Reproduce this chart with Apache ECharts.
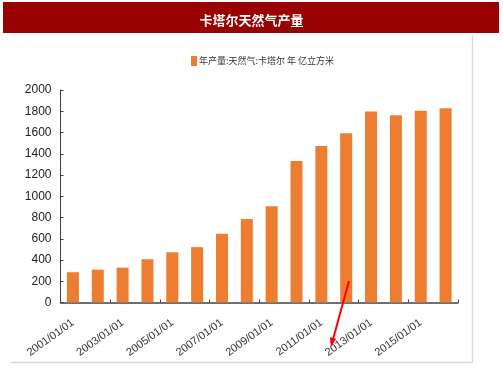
<!DOCTYPE html>
<html>
<head>
<meta charset="utf-8">
<script src="https://cdn.jsdelivr.net/npm/echarts@6/dist/echarts.min.js"></script>
<style>html,body{margin:0;padding:0;background:#fff}#c{width:503px;height:378px}</style>
</head>
<body>
<div id="c"></div>
<script>
const categories = ['2001/01/01','2002/01/01','2003/01/01','2004/01/01','2005/01/01','2006/01/01','2007/01/01','2008/01/01','2009/01/01','2010/01/01','2011/01/01','2012/01/01','2013/01/01','2014/01/01','2015/01/01','2016/01/01'];
const production = [285, 309, 328, 407, 473, 521, 646, 785, 907, 1332, 1474, 1592, 1797, 1762, 1804, 1828];
const seriesName = '年产量:天然气:卡塔尔 年 亿立方米';
const titleText = '卡塔尔天然气产量';
const font = '"Liberation Sans", Arial, sans-serif';

const chart = echarts.init(document.getElementById('c'), null, {renderer: 'canvas'});
chart.setOption({
  animation: false,
  title: {
    text: titleText, left: 'center', top: 9,
    textStyle: {color: '#fff', fontSize: 13, fontWeight: 'bold', fontFamily: 'Noto Sans CJK SC'}
  },
  legend: {
    left: 186, top: 51, itemWidth: 6, itemHeight: 10, itemGap: 10,
    icon: 'rect',
    textStyle: {color: '#333', fontSize: 9, fontFamily: 'Noto Sans CJK SC', padding: [0, 0, 0, -3]},
    data: [seriesName]
  },
  grid: {left: 60.5, right: 45, top: 90, bottom: 75.5},
  xAxis: {
    type: 'category', data: categories, boundaryGap: true,
    axisLine: {lineStyle: {color: '#404040', width: 1.5}},
    axisTick: {show: true, inside: true, length: 3, interval: 1, lineStyle: {color: '#404040'}},
    axisLabel: {interval: 1, rotate: 36, fontSize: 11, color: '#333', fontFamily: font, margin: 19}
  },
  yAxis: {
    type: 'value', min: 0, max: 2000, interval: 200,
    axisLine: {show: true, lineStyle: {color: '#404040', width: 1}},
    axisTick: {show: true, inside: true, length: 3, lineStyle: {color: '#404040'}},
    splitLine: {show: false},
    axisLabel: {fontSize: 12, color: '#222', fontFamily: font, margin: 9, formatter: v => String(v)}
  },
  series: [{
    name: seriesName, type: 'bar', data: production, barWidth: 12,
    itemStyle: {color: '#ED7D31'}
  }],
  graphic: [
    {type: 'rect', z: -1, shape: {x: 3, y: 2, width: 496, height: 31}, style: {fill: '#990000'}},
    {type: 'line', shape: {x1: 472.5, y1: 35, x2: 472.5, y2: 363}, style: {stroke: '#d9d9d9', lineWidth: 1.5}},
    {type: 'line', shape: {x1: 11, y1: 362.5, x2: 472.5, y2: 362.5}, style: {stroke: '#d9d9d9', lineWidth: 1.5}},
    {type: 'line', z: 100, shape: {x1: 349, y1: 281, x2: 332, y2: 343}, style: {stroke: '#ff0000', lineWidth: 2}},
    {type: 'polygon', z: 100, shape: {points: [[331, 347], [336.2, 338.8], [329.8, 337.2]]}, style: {fill: '#ff0000'}}
  ]
});
</script>
</body>
</html>
